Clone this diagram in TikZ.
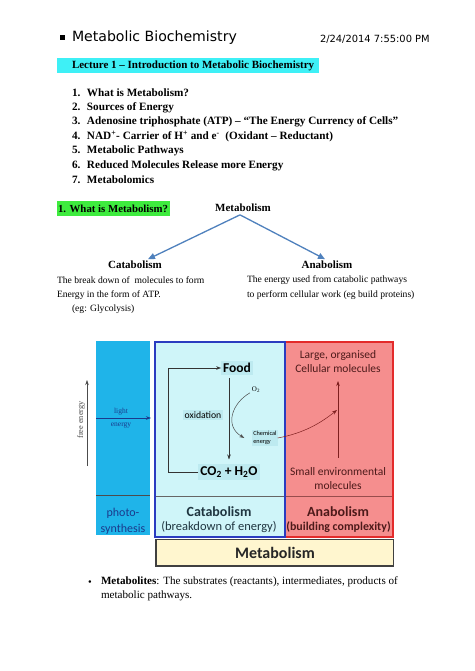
\documentclass[tikz,border=0pt]{standalone}
\usepackage{fontspec}
\setmainfont{Liberation Serif}
\newfontfamily\headfont{DejaVu Sans}
\newfontfamily\calfont{Carlito}
\usetikzlibrary{arrows.meta}
\definecolor{hlcyan}{HTML}{3EF0F6}
\definecolor{hlgreen}{HTML}{3EEB3E}
\definecolor{treeblue}{HTML}{4F81BD}
\definecolor{photoblue}{HTML}{1FB4E9}
\definecolor{photodark}{HTML}{1B3A8C}
\definecolor{catafill}{HTML}{CFF5F9}
\definecolor{cataline}{HTML}{2B3CC0}
\definecolor{catatext}{HTML}{1F3540}
\definecolor{labfill}{HTML}{BDEAF0}
\definecolor{anafill}{HTML}{F58E8E}
\definecolor{analine}{HTML}{E32B2B}
\definecolor{anatext}{HTML}{4D1A1A}
\definecolor{metafill}{HTML}{FFF6CF}
\definecolor{darkred}{HTML}{7E1F1F}

\begin{document}
\begin{tikzpicture}[x=1pt, y=-1pt,
  every node/.style={inner sep=0pt, outer sep=0pt},
  item/.style={anchor=west, font=\fontsize{11.2}{13}\selectfont\bfseries},
  plain/.style={anchor=west, font=\fontsize{9.6}{12}\selectfont},
  head/.style={font=\fontsize{11}{13}\selectfont\bfseries},
  treearrow/.style={-{Triangle[length=7pt,width=6pt]}, line width=1.3pt, treeblue},
  thinarrow/.style={-{Stealth[length=5pt,width=3.5pt]}, line width=0.5pt},
  panel/.style={font=\calfont\fontsize{14}{15}\selectfont\bfseries},
  sub/.style={font=\calfont\fontsize{12.5}{14}\selectfont},
  lab/.style={fill=labfill, inner sep=2pt, font=\calfont\fontsize{13.5}{15}\selectfont\bfseries},
  molecules/.style={font=\calfont\fontsize{11.5}{14}\selectfont, align=center, text=anatext},
  small serif/.style={font=\fontsize{7.5}{8.5}\selectfont, text=photodark}
]
\useasboundingbox (0,0) rectangle (474,671);
\fill[white] (0,0) rectangle (474,671);

% page header
\fill (59.5,35.5) rectangle (64.5,40.5);
\node[anchor=west, font=\headfont\fontsize{14.1}{16}\selectfont] (title) at (72,38) {Metabolic Biochemistry};
\node[anchor=west, font=\headfont\fontsize{9.9}{11}\selectfont] (date) at (320,39) {2/24/2014 7:55:00 PM};

% lecture title and topics
\fill[hlcyan] (57,58) rectangle (319,73);
\node[item, font=\fontsize{11}{13}\selectfont\bfseries] (lecture) at (72,65.5) {Lecture 1 -- Introduction to Metabolic Biochemistry};
\node[item] (t1) at (72,93) {\makebox[15pt][l]{1.}What is Metabolism?};
\node[item] (t2) at (72,107.5) {\makebox[15pt][l]{2.}Sources of Energy};
\node[item] (t3) at (72,122) {\makebox[15pt][l]{3.}Adenosine triphosphate (ATP) -- ``The Energy Currency of Cells''};
\node[item] (t4) at (72,136.5) {\makebox[15pt][l]{4.}NAD\textsuperscript{+}- Carrier of H\textsuperscript{+} and e\textsuperscript{-}\ \ (Oxidant -- Reductant)};
\node[item] (t5) at (72,151) {\makebox[15pt][l]{5.}Metabolic Pathways};
\node[item] (t6) at (72,165.5) {\makebox[15pt][l]{6.}Reduced Molecules Release more Energy};
\node[item] (t7) at (72,180) {\makebox[15pt][l]{7.}Metabolomics};

% what is metabolism
\fill[hlgreen] (57,201) rectangle (170,216);
\node[item, font=\fontsize{10.8}{13}\selectfont\bfseries] (q1) at (58,208.5) {1. What is Metabolism?};
\node[head] (metab) at (243,208) {Metabolism};
\node[head] (cata) at (135,265) {Catabolism};
\node[head] (anab) at (327,265) {Anabolism};
\draw[treearrow] ([xshift=-3pt,yshift=-3pt]metab.south) -- ([xshift=13pt,yshift=2pt]cata.north);
\draw[treearrow] ([xshift=-3pt,yshift=-3pt]metab.south) -- ([xshift=-2pt,yshift=2pt]anab.north);
\node[plain] (cdesc1) at (57,280) {The break down of \ molecules to form};
\node[plain] (cdesc2) at (57,295) {Energy in the form of ATP.};
\node[plain] (cdesc3) at (72,309) {(eg: Glycolysis)};
\node[plain] (adesc1) at (247,280) {The energy used from catabolic pathways};
\node[plain] (adesc2) at (247,295) {to perform cellular work (eg build proteins)};

% panels
\fill[photoblue] (96,341) rectangle (150,535);
\draw[black!70, line width=0.6pt] (96,495) -- (150,495);
\fill[catafill] (155,342) rectangle (285,537);
\fill[anafill] (285,342) rectangle (393,537);
\draw[black!60, line width=0.6pt] (155,496) -- (285,496);
\draw[darkred!80, line width=0.6pt] (285,496) -- (393,496);
\draw[analine, line width=2pt] (285,342) rectangle (393,537);
\draw[cataline, line width=2.4pt] (155,342) rectangle (285,537);
\draw[black!75, fill=metafill, line width=1.3pt] (156,539.5) rectangle (393.5,566);
\node[font=\calfont\fontsize{16}{18}\selectfont\bfseries, text=black!85] (metabar) at (275,552.5) {Metabolism};

% panel labels
\node[font=\calfont\fontsize{12}{16}\selectfont, text=photodark, align=center] (photo) at (123,521) {photo-\\synthesis};
\node[panel, text=catatext] (catalab) at (219,512) {Catabolism};
\node[sub, text=catatext] (catasub) at (219,527) {(breakdown of energy)};
\node[panel, text=anatext] (anablab) at (338,512) {Anabolism};
\node[sub, text=anatext, font=\calfont\fontsize{11.9}{14}\selectfont\bfseries] (anasub) at (338.5,527) {(building complexity)};

% light energy and free energy
\node[small serif] (light) at (121,411.5) {light};
\node[small serif] (lenergy) at (121,425) {energy};
\coordinate (lin) at (96,418);
\coordinate (lout) at (151,418);
\draw[thinarrow, photodark] (lin) -- (lout);
\node[small serif, font=\fontsize{8.3}{9}\selectfont, text=black!70, rotate=90] (free) at (81,420) {free energy};
\coordinate (fbot) at (87,466);
\coordinate (ftop) at (87,380);
\draw[thinarrow, black!70] (fbot) -- (ftop);

% catabolism cycle
\node[lab] (food) at (237,368) {Food};
\node[lab] (co2) at (229,472) {CO\textsubscript{2} + H\textsubscript{2}O};
\node[fill=labfill, inner sep=2pt, font=\calfont\fontsize{9.7}{11}\selectfont] (oxid) at (203,415) {oxidation};
\node[font=\fontsize{7}{8}\selectfont] (o2) at (256,390) {O\textsubscript{2}};
\node[font=\calfont\fontsize{6.3}{8.5}\selectfont, align=left, fill=labfill, inner sep=1pt] (chem) at (265,438) {Chemical\\energy};
\coordinate (loopx) at (168,420);
\draw[thinarrow, black!80] (co2.west) -- (co2.west -| loopx) |- (food.west);
\draw[thinarrow, black!80] ([yshift=-3pt]co2 |- food.south) -- ([yshift=5pt]co2.north);
\draw[thinarrow, black!70] ([xshift=-2pt]o2.south west) .. controls (232,403) and (224,426) .. ([xshift=-8pt]chem.west);

% anabolism
\node[molecules] (large) at (338,362) {Large, organised\\Cellular molecules};
\node[molecules] (small) at (338,479) {Small environmental\\molecules};
\coordinate (join) at (337,410);
\draw[thinarrow, darkred] ([yshift=10pt]small.north) -- ([yshift=-8pt]large.south);
\draw[thinarrow, darkred] (chem.east) .. controls (305,433) and (322,422) .. (join);

% metabolites
\node[font=\fontsize{10.5}{12}\selectfont] (dot) at (90,583) {\textbullet};
\node[anchor=north west, align=left, font=\fontsize{11.1}{14}\selectfont] (metabolites) at (101,576.5) {\textbf{Metabolites}: The substrates (reactants), intermediates, products of\\metabolic pathways.};
\end{tikzpicture}
\end{document}
